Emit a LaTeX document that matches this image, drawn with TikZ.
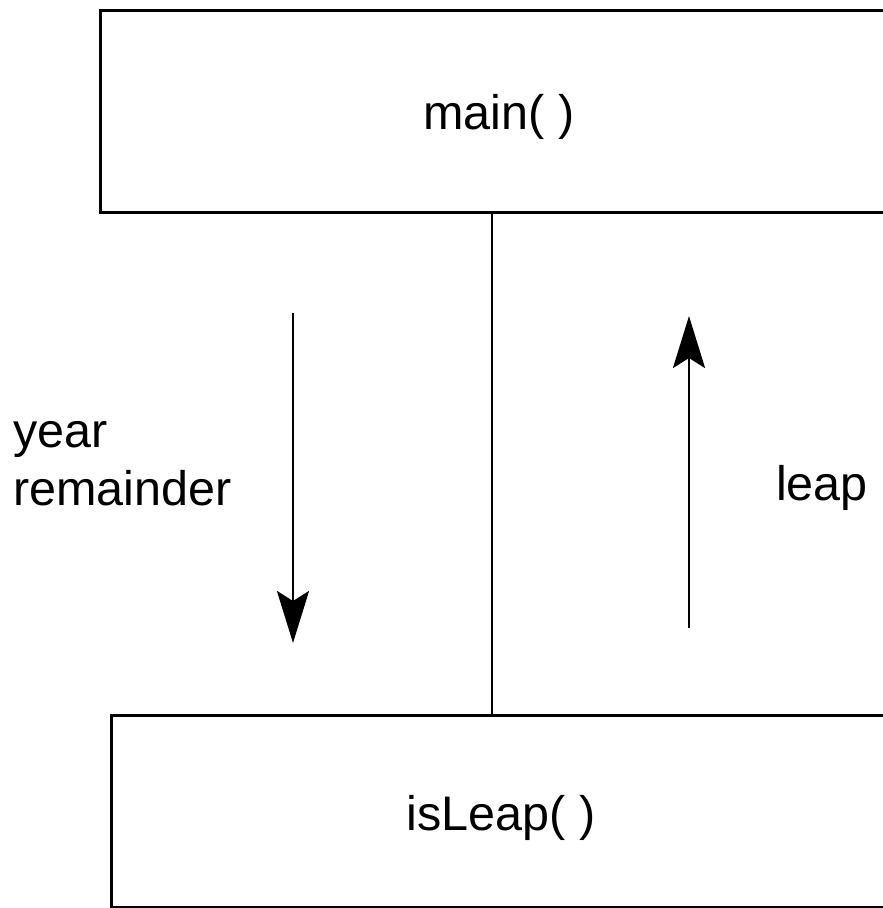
\documentclass[tikz,border=0pt]{standalone}
\usepackage{fontspec}
\setmainfont{Liberation Sans}
\usetikzlibrary{arrows.meta}
\begin{document}
\begin{tikzpicture}[x=1pt,y=-1pt,
  fnbox/.style={draw,line width=3pt,rectangle,inner sep=0pt},
  lbl/.style={font=\fontsize{48.5}{58}\selectfont,inner sep=0pt},
  flow/.style={line width=2.6pt,-{Stealth[length=52pt,width=32pt,inset=10pt]}}]
  \useasboundingbox (0,0) rectangle (883,908);
  \clip (0,0) rectangle (883,908);
  % function boxes (running off the right edge)
  \node[fnbox,minimum width=810pt,minimum height=202pt] (main) at (505,111) {};
  \node[fnbox,minimum width=800pt,minimum height=192pt] (isleap) at (511,811.5) {};
  \node[lbl] (maintxt) at (499,117) {main( )};
  \node[lbl] (isleaptxt) at (501,818) {isLeap( )};
  % call link
  \coordinate (mid) at (492,0);
  \draw[line width=2.6pt] (main.south -| mid) -- (isleap.north -| mid);
  % data passed down and returned up
  \coordinate (dtop) at (293,313);
  \coordinate (dbot) at (293,643);
  \coordinate (ubot) at (689,628);
  \coordinate (utop) at (689,316);
  \draw[flow] (dtop) -- (dbot);
  \draw[flow] (ubot) -- (utop);
  \node[lbl,anchor=west,align=left] (args) at (13,464) {year\\remainder};
  \node[lbl,anchor=west] (ret) at (776,488) {leap};
\end{tikzpicture}
\end{document}
